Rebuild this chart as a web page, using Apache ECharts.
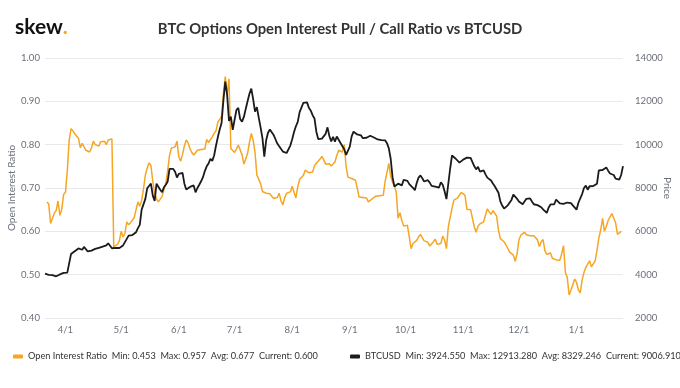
<!DOCTYPE html>
<html>
<head>
<meta charset="utf-8">
<script src="https://cdn.jsdelivr.net/npm/echarts@6/dist/echarts.min.js"></script>
<style>html,body{margin:0;padding:0;background:#fff}#c{width:680px;height:388px}</style>
</head>
<body>
<div id="c"></div>
<script>
// Daily categories (M/D), 2019-03-21 .. 2020-01-26
const dates = [
'3/21','3/22','3/23','3/24','3/25','3/26','3/27','3/28','3/29','3/30','3/31',
'4/1','4/2','4/3','4/4','4/5','4/6','4/7','4/8','4/9','4/10','4/11','4/12','4/13','4/14','4/15','4/16','4/17','4/18','4/19','4/20','4/21','4/22','4/23','4/24','4/25','4/26','4/27','4/28','4/29','4/30',
'5/1','5/2','5/3','5/4','5/5','5/6','5/7','5/8','5/9','5/10','5/11','5/12','5/13','5/14','5/15','5/16','5/17','5/18','5/19','5/20','5/21','5/22','5/23','5/24','5/25','5/26','5/27','5/28','5/29','5/30','5/31',
'6/1','6/2','6/3','6/4','6/5','6/6','6/7','6/8','6/9','6/10','6/11','6/12','6/13','6/14','6/15','6/16','6/17','6/18','6/19','6/20','6/21','6/22','6/23','6/24','6/25','6/26','6/27','6/28','6/29','6/30',
'7/1','7/2','7/3','7/4','7/5','7/6','7/7','7/8','7/9','7/10','7/11','7/12','7/13','7/14','7/15','7/16','7/17','7/18','7/19','7/20','7/21','7/22','7/23','7/24','7/25','7/26','7/27','7/28','7/29','7/30','7/31',
'8/1','8/2','8/3','8/4','8/5','8/6','8/7','8/8','8/9','8/10','8/11','8/12','8/13','8/14','8/15','8/16','8/17','8/18','8/19','8/20','8/21','8/22','8/23','8/24','8/25','8/26','8/27','8/28','8/29','8/30','8/31',
'9/1','9/2','9/3','9/4','9/5','9/6','9/7','9/8','9/9','9/10','9/11','9/12','9/13','9/14','9/15','9/16','9/17','9/18','9/19','9/20','9/21','9/22','9/23','9/24','9/25','9/26','9/27','9/28','9/29','9/30',
'10/1','10/2','10/3','10/4','10/5','10/6','10/7','10/8','10/9','10/10','10/11','10/12','10/13','10/14','10/15','10/16','10/17','10/18','10/19','10/20','10/21','10/22','10/23','10/24','10/25','10/26','10/27','10/28','10/29','10/30','10/31',
'11/1','11/2','11/3','11/4','11/5','11/6','11/7','11/8','11/9','11/10','11/11','11/12','11/13','11/14','11/15','11/16','11/17','11/18','11/19','11/20','11/21','11/22','11/23','11/24','11/25','11/26','11/27','11/28','11/29','11/30',
'12/1','12/2','12/3','12/4','12/5','12/6','12/7','12/8','12/9','12/10','12/11','12/12','12/13','12/14','12/15','12/16','12/17','12/18','12/19','12/20','12/21','12/22','12/23','12/24','12/25','12/26','12/27','12/28','12/29','12/30','12/31',
'1/1','1/2','1/3','1/4','1/5','1/6','1/7','1/8','1/9','1/10','1/11','1/12','1/13','1/14','1/15','1/16','1/17','1/18','1/19','1/20','1/21','1/22','1/23','1/24','1/25','1/26'
];

// Open Interest Put/Call ratio (left axis)
const ratioValues = [
null,0.668,0.663,0.618,0.620,0.642,0.648,0.670,0.637,0.650,0.685,
0.690,0.740,0.810,0.837,0.832,0.825,0.823,0.815,0.793,0.803,0.800,0.787,0.789,0.783,0.792,0.808,0.800,0.797,0.797,0.807,0.805,0.808,0.800,0.811,0.814,0.813,0.564,0.564,0.570,0.578,
0.600,0.587,0.595,0.622,0.615,0.620,0.626,0.632,0.650,0.668,0.658,0.671,0.698,0.730,0.746,0.758,0.752,0.715,0.688,0.675,0.668,0.670,0.680,0.697,0.710,0.740,0.775,0.792,0.791,0.795,0.808,
0.772,0.762,0.777,0.797,0.811,0.804,0.791,0.782,0.776,0.780,0.787,0.789,0.789,0.791,0.790,0.812,0.805,0.808,0.818,0.826,0.832,0.852,0.853,0.865,0.918,0.957,0.915,0.952,0.791,0.790,
0.782,0.790,0.799,0.797,0.777,0.755,0.757,0.780,0.805,0.826,0.810,0.782,0.730,0.727,0.710,0.692,0.690,0.688,0.686,0.687,0.681,0.676,0.677,0.678,0.688,0.670,0.661,0.678,0.688,0.688,0.691,
0.704,0.690,0.677,0.703,0.720,0.724,0.729,0.741,0.738,0.735,0.733,0.737,0.751,0.757,0.761,0.767,0.773,0.765,0.755,0.752,0.756,0.751,0.753,0.760,0.775,0.787,0.786,0.783,0.800,0.750,0.725,
0.727,0.722,0.722,0.718,0.700,0.679,0.677,0.678,0.678,0.677,0.668,0.668,0.675,0.678,0.681,0.685,0.682,0.680,0.683,0.715,0.736,0.757,0.727,0.713,0.705,0.690,0.630,0.643,0.625,0.612,
0.610,0.614,0.617,0.560,0.572,0.573,0.579,0.587,0.593,0.595,0.578,0.576,0.575,0.566,0.570,0.576,0.582,0.570,0.567,0.572,0.589,0.580,0.560,0.610,0.632,0.653,0.672,0.675,0.677,0.680,0.690,
0.692,0.683,0.651,0.655,0.650,0.630,0.610,0.598,0.612,0.617,0.620,0.622,0.626,0.652,0.645,0.639,0.648,0.647,0.635,0.603,0.583,0.579,0.576,0.569,0.561,0.552,0.554,0.545,0.531,0.548,
0.580,0.591,0.594,0.598,0.592,0.588,0.590,0.590,0.590,0.585,0.580,0.565,0.576,0.581,0.555,0.547,0.548,0.550,0.538,0.540,0.534,0.531,0.533,0.548,0.567,0.505,0.494,0.453,0.464,0.467,0.490,
0.482,0.465,0.458,0.488,0.505,0.517,0.521,0.532,0.518,0.515,0.532,0.556,0.585,0.603,0.630,0.600,0.611,0.625,0.629,0.641,0.640,0.620,0.593,0.595,0.600,null
];

// BTCUSD price (right axis)
const btcValues = [
4050,4020,3995,3990,3978,3965,3925,3955,4010,4055,4080,
4090,4095,4110,4950,5020,5080,5160,5210,5250,5150,5280,5250,5070,5085,5110,5040,5190,5240,5240,5270,5290,5310,5350,5450,5480,5220,5225,5238,5220,5230,
5300,5350,5420,5650,5800,5855,5830,5800,5960,6150,6300,7000,7000,7500,7990,8060,8200,7650,7400,8200,8130,7920,7810,8030,8150,8300,8880,8910,8880,8750,8480,
8650,8740,8700,8200,7930,7910,8050,8120,8120,7800,8000,8150,8310,8500,8780,9000,9130,9350,9250,9500,9950,10350,10700,11000,12050,12913,12300,11100,11300,10680,
10760,11600,11700,11180,11060,11280,11650,12000,12350,12590,12100,11520,11730,11250,10800,10300,9450,10200,10550,10700,10680,10450,10250,10050,9930,9900,9680,9600,9615,9680,9960,
10250,10580,10850,11050,11500,11520,11930,12010,11950,11700,11570,11360,11210,10600,10260,10340,10280,10250,10500,10800,10400,10150,10360,10140,10380,10310,10080,10000,9790,9530,9620,
9910,10380,10600,10580,10470,10520,10430,10300,10350,10320,10230,10410,10350,10330,10300,10240,10210,10210,10260,10200,10070,9830,9350,8500,8070,8120,8200,8270,8120,8380,
8420,8330,8180,8150,8010,7900,8230,8480,8580,8450,8300,8360,8360,8250,8100,8055,8060,7975,8020,8260,8150,7850,7490,7470,8900,9500,9420,9350,9260,9170,9220,
9310,9370,9400,9425,9390,9330,9000,8860,8980,8760,8740,8810,8630,8480,8500,8350,8210,8080,8020,7780,7380,7190,7050,7000,7200,7260,7450,7700,7640,7500,
7380,7330,7250,7300,7500,7580,7520,7380,7250,7230,7210,7150,7110,7010,6950,6850,7100,7240,7160,7250,7460,7380,7290,7210,7270,7260,7330,7420,7300,7200,7160,
7000,7320,7360,7720,8000,8110,7920,8080,8070,8090,8170,8200,8810,8800,8830,8900,8950,8800,8670,8680,8600,8430,8420,8390,8600,9007
];

const ratioTicks = [0.4, 0.5, 0.6, 0.7, 0.8, 0.9, 1.0];
const priceTicks = [2000, 4000, 6000, 8000, 10000, 12000, 14000];

const ratioName = 'Open Interest Ratio';
const btcName = 'BTCUSD';
const ratioStats = 'Min: 0.453  Max: 0.957  Avg: 0.677  Current: 0.600';
const btcStats = 'Min: 3924.550  Max: 12913.280  Avg: 8329.246  Current: 9006.910';

const FONT = 'Lato, "Noto Sans", sans-serif';
const ORANGE = '#f5a623';
const BLACK = '#1b1b1b';
const GRAY = '#6b6f7a';
const LABEL_SIZE = 9.6;
const LEGEND_SIZE = 9.2;

const chart = echarts.init(document.getElementById('c'), null, {renderer: 'canvas'});
chart.setOption({
  animation: false,
  backgroundColor: '#fff',
  title: [
    {
      text: '{a|skew}{b|.}',
      left: 10, top: 12,
      textStyle: {
        rich: {
          a: {fontFamily: FONT, fontWeight: 'bold', fontSize: 21, color: '#111'},
          b: {fontFamily: FONT, fontWeight: 'bold', fontSize: 21, color: ORANGE}
        }
      }
    },
    {
      text: 'BTC Options Open Interest Pull / Call Ratio vs BTCUSD',
      left: 'center', top: 17,
      textStyle: {fontFamily: FONT, fontWeight: 'bold', fontSize: 14.8, color: '#333'}
    }
  ],
  legend: [
    {
      left: 8, top: 347, data: [ratioName], icon: 'roundRect', itemWidth: 10, itemHeight: 4,
      formatter: n => n + '  ' + ratioStats,
      textStyle: {fontFamily: FONT, fontSize: LEGEND_SIZE, color: '#333'}
    },
    {
      left: 345, top: 347, data: [btcName], icon: 'roundRect', itemWidth: 10, itemHeight: 4,
      formatter: n => n + '  ' + btcStats,
      textStyle: {fontFamily: FONT, fontSize: LEGEND_SIZE, color: '#333'}
    }
  ],
  grid: {left: 45, right: 57, top: 58, bottom: 70, containLabel: false, outerBoundsMode: 'none'},
  xAxis: {
    type: 'category',
    data: dates,
    boundaryGap: false,
    axisLine: {show: false},
    axisTick: {show: false},
    splitLine: {show: false},
    axisLabel: {
      interval: (i, v) => /\/1$/.test(v),
      margin: 7,
      fontFamily: FONT, fontSize: LABEL_SIZE, color: GRAY
    }
  },
  yAxis: [
    {
      type: 'value', position: 'left',
      min: ratioTicks[0], max: ratioTicks[ratioTicks.length - 1], interval: 0.1,
      name: 'Open Interest Ratio', nameLocation: 'middle', nameGap: 28, nameRotate: 90,
      nameMoveOverlap: false,
      nameTextStyle: {fontFamily: FONT, fontSize: 10, color: GRAY},
      axisLine: {show: false}, axisTick: {show: false},
      axisLabel: {formatter: v => v.toFixed(2), margin: 5, fontFamily: FONT, fontSize: LABEL_SIZE, color: GRAY},
      splitLine: {lineStyle: {color: '#e9e9ec', width: 1}}
    },
    {
      type: 'value', position: 'right',
      min: priceTicks[0], max: priceTicks[priceTicks.length - 1], interval: 2000,
      name: 'Price', nameLocation: 'middle', nameGap: 39, nameRotate: -90,
      nameMoveOverlap: false,
      nameTextStyle: {fontFamily: FONT, fontSize: 10, color: GRAY},
      axisLine: {show: false}, axisTick: {show: false},
      axisLabel: {formatter: v => String(v), margin: 12, fontFamily: FONT, fontSize: LABEL_SIZE, color: GRAY},
      splitLine: {show: false}
    }
  ],
  series: [
    {
      name: ratioName, type: 'line', yAxisIndex: 0, data: ratioValues,
      showSymbol: false, symbol: 'none', connectNulls: false,
      lineStyle: {color: ORANGE, width: 1.5}, itemStyle: {color: ORANGE}
    },
    {
      name: btcName, type: 'line', yAxisIndex: 1, data: btcValues,
      showSymbol: false, symbol: 'none',
      lineStyle: {color: BLACK, width: 1.8}, itemStyle: {color: BLACK}
    }
  ]
});
</script>
</body>
</html>
